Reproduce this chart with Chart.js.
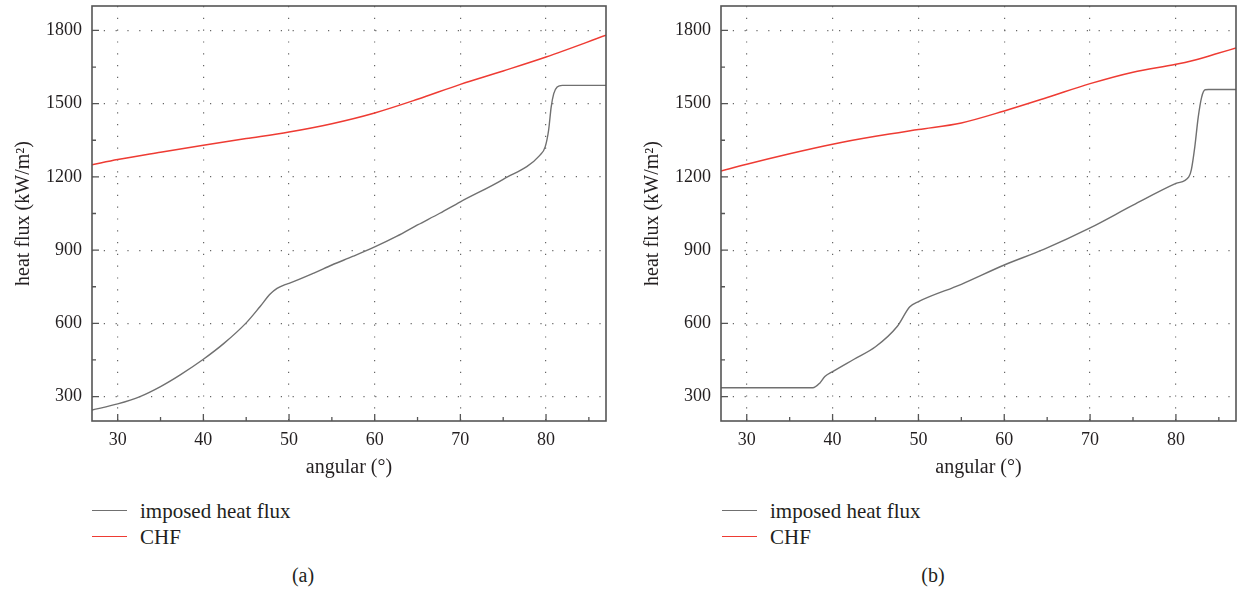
<!DOCTYPE html>
<html>
<head>
<meta charset="utf-8">
<script src="https://cdn.jsdelivr.net/npm/chart.js@4.4.1/dist/chart.umd.min.js"></script>
<style>
  body { margin: 0; width: 1242px; height: 595px; background: #fff; position: relative; overflow: hidden;
         font-family: "Liberation Serif", serif; color: #231f20; }
  .panel { position: absolute; top: 0; height: 480px; }
  .leg { position: absolute; font-size: 21px; line-height: 26px; white-space: nowrap; }
  .leg span.ln { position: absolute; left: 0; top: 12px; width: 35px; height: 0; border-top: 1.4px solid; }
  .leg span.tx { position: absolute; left: 48px; top: 0; }
  .cap { position: absolute; font-size: 20px; transform: translateX(-50%); }
</style>
</head>
<body>
<div class="panel" style="left:0;width:621px"><canvas id="chartA" width="621" height="480"></canvas></div>
<div class="panel" style="left:629px;width:613px"><canvas id="chartB" width="613" height="480"></canvas></div>

<div class="leg" style="left:92px;top:498px"><span class="ln" style="border-color:#707070"></span><span class="tx">imposed heat flux</span></div>
<div class="leg" style="left:92px;top:524px"><span class="ln" style="border-color:#ee3b33"></span><span class="tx">CHF</span></div>
<div class="cap" style="left:303px;top:564px">(a)</div>

<div class="leg" style="left:722px;top:498px"><span class="ln" style="border-color:#707070"></span><span class="tx">imposed heat flux</span></div>
<div class="leg" style="left:722px;top:524px"><span class="ln" style="border-color:#ee3b33"></span><span class="tx">CHF</span></div>
<div class="cap" style="left:933px;top:564px">(b)</div>

<script>
// axis ticks
const xTicks = [30, 40, 50, 60, 70, 80];
const xMinor = [35, 45, 55, 65, 75, 85];
const yTicks = [300, 600, 900, 1200, 1500, 1800];
const yMinor = [450, 750, 1050, 1350, 1650];

// panel (a)
const imposedAngleA = [27, 30, 32.6, 35, 37.3, 40, 42.4, 45, 46.6, 47.8, 48.6, 49.4, 50, 52.9, 55, 57.5, 60, 62.6, 65, 67.6, 70, 75, 79.3, 79.9, 80.3, 80.6, 80.9, 81.3, 81.9, 87];
const imposedFluxA = [245, 270, 300, 341, 389, 453, 518, 602, 668, 720, 743, 757, 764, 806, 839, 875, 913, 957, 1003, 1051, 1098, 1190, 1289, 1323, 1391, 1486, 1541, 1568, 1575, 1575];
const chfAngleA = [27, 30, 35, 40, 45, 50, 55, 60, 65, 70, 75, 80, 87];
const chfFluxA = [1250, 1271, 1301, 1330, 1357, 1384, 1418, 1462, 1518, 1579, 1634, 1691, 1780];

// panel (b)
const imposedAngleB = [27, 37.7, 38.5, 39.1, 40, 42.5, 45, 47.5, 49, 50, 55, 60, 64.6, 70, 75, 80, 81.5, 81.8, 82.2, 82.6, 83.0, 83.4, 83.8, 87];
const imposedFluxB = [336, 336, 355, 382, 402, 453, 504, 586, 668, 689, 760, 839, 903, 991, 1084, 1173, 1200, 1230, 1323, 1445, 1527, 1557, 1558, 1558];
const chfAngleB = [27, 30, 35, 40, 45, 50, 55, 60, 65, 70, 75, 80, 82, 84.5, 87];
const chfFluxB = [1224, 1252, 1295, 1334, 1366, 1394, 1421, 1470, 1525, 1582, 1629, 1661, 1677, 1702, 1728];

const FONT = '"Liberation Serif", serif';
const INK = '#231f20';
Chart.defaults.font.family = FONT;

function pairs(xs, ys) {
  return xs.map((x, i) => ({ x: x, y: ys[i] }));
}

// box around the plot + inward tick marks on bottom and left axes
const frameTicks = {
  id: 'frameTicks',
  afterDraw(chart) {
    const { ctx, chartArea: a, scales: { x, y } } = chart;
    ctx.save();
    ctx.strokeStyle = '#555';
    ctx.lineWidth = 1.3;
    ctx.beginPath();
    xTicks.forEach(v => { const p = x.getPixelForValue(v); ctx.moveTo(p, a.bottom); ctx.lineTo(p, a.bottom - 7); });
    xMinor.forEach(v => { const p = x.getPixelForValue(v); ctx.moveTo(p, a.bottom); ctx.lineTo(p, a.bottom - 4); });
    yTicks.forEach(v => { const p = y.getPixelForValue(v); ctx.moveTo(a.left, p); ctx.lineTo(a.left + 7, p); });
    yMinor.forEach(v => { const p = y.getPixelForValue(v); ctx.moveTo(a.left, p); ctx.lineTo(a.left + 4, p); });
    ctx.stroke();
    ctx.lineWidth = 1.6;
    ctx.strokeRect(a.left, a.top, a.right - a.left, a.bottom - a.top);
    ctx.restore();
  }
};

function noPad(s) {
  s.paddingTop = 0; s.paddingBottom = 0; s.paddingLeft = 0; s.paddingRight = 0;
}

function makeChart(id, imposed, chf, padRight) {
  new Chart(document.getElementById(id), {
    type: 'line',
    data: {
      datasets: [
        { label: 'imposed heat flux', data: imposed, borderColor: '#707070', borderWidth: 1.4,
          pointRadius: 0, cubicInterpolationMode: 'monotone' },
        { label: 'CHF', data: chf, borderColor: '#ee3b33', borderWidth: 1.5,
          pointRadius: 0, cubicInterpolationMode: 'monotone' }
      ]
    },
    options: {
      responsive: false,
      animation: false,
      layout: { padding: { left: 0, top: 6, right: padRight, bottom: 0 } },
      plugins: { legend: { display: false }, tooltip: { enabled: false } },
      scales: {
        x: {
          type: 'linear', min: 27, max: 87,
          afterBuildTicks: s => { s.ticks = xTicks.map(v => ({ value: v })); },
          afterFit: s => { s.height = 59; noPad(s); },
          ticks: { color: INK, font: { family: FONT, size: 18 }, padding: 8, maxRotation: 0,
                   callback: v => String(v) },
          grid: { color: '#666', lineWidth: 1.2, drawTicks: false, tickLength: 0 },
          border: { display: false, dash: [1.2, 10.6] },
          title: { display: true, text: 'angular (°)', color: INK, font: { family: FONT, size: 20 },
                   padding: { top: 0, bottom: 0 } }
        },
        y: {
          type: 'linear', min: 200, max: 1900,
          afterBuildTicks: s => { s.ticks = yTicks.map(v => ({ value: v })); },
          afterFit: s => { s.width = 92; noPad(s); },
          ticks: { color: INK, font: { family: FONT, size: 18 }, padding: 10,
                   callback: v => String(v) },
          grid: { color: '#666', lineWidth: 1.2, drawTicks: false, tickLength: 0 },
          border: { display: false, dash: [1.2, 10.6] },
          title: { display: true, text: 'heat flux (kW/m²)', color: INK, font: { family: FONT, size: 20 },
                   padding: { top: 12, bottom: 0 } }
        }
      }
    },
    plugins: [frameTicks]
  });
}

makeChart('chartA', pairs(imposedAngleA, imposedFluxA), pairs(chfAngleA, chfFluxA), 15);
makeChart('chartB', pairs(imposedAngleB, imposedFluxB), pairs(chfAngleB, chfFluxB), 6);
</script>
</body>
</html>
